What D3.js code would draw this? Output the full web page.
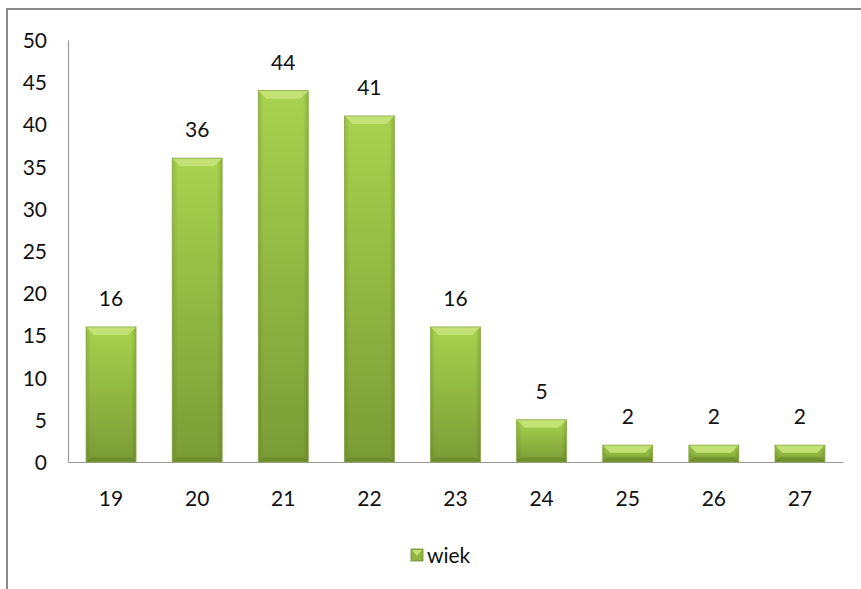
<!DOCTYPE html>
<html><head><meta charset="utf-8">
<script src="https://cdn.jsdelivr.net/npm/d3@7"></script>
<style>
html,body{margin:0;padding:0;background:#fff;}
text{font-family:Lato,"Open Sans",sans-serif;fill:#111;}
</style></head>
<body>
<svg id="chart" width="861" height="589"></svg>
<script>
const categories = ["19","20","21","22","23","24","25","26","27"];
const values = [16,36,44,41,16,5,2,2,2];
const yTicks = [0,5,10,15,20,25,30,35,40,45,50];
const seriesName = "wiek";

const svg = d3.select("#chart");
const W = 861, H = 589;
const plot = {left:68, right:843, top:40, bottom:462};
const FS = "21px";

// frame
svg.append("rect").attr("x",7).attr("y",9).attr("width",W+10).attr("height",H+10)
  .attr("fill","none").attr("stroke","#8a8a8a").attr("stroke-width",2);

const x = d3.scaleBand().domain(categories).range([plot.left, plot.right])
  .paddingInner(0.42).paddingOuter(0.21);
const y = d3.scaleLinear().domain([0,50]).range([plot.bottom, plot.top]);

const defs = svg.append("defs");
const g1 = defs.append("linearGradient").attr("id","gv").attr("x1","0").attr("x2","0").attr("y1","0").attr("y2","1");
g1.append("stop").attr("offset","0").attr("stop-color","#a8d24e");
g1.append("stop").attr("offset","1").attr("stop-color","#7a9c36");
const g2 = defs.append("linearGradient").attr("id","gh").attr("x1","0").attr("x2","1").attr("y1","0").attr("y2","0");
g2.append("stop").attr("offset","0").attr("stop-color","#2f4a00").attr("stop-opacity",0.18);
g2.append("stop").attr("offset","0.1").attr("stop-color","#2f4a00").attr("stop-opacity",0);
g2.append("stop").attr("offset","0.9").attr("stop-color","#2f4a00").attr("stop-opacity",0);
g2.append("stop").attr("offset","1").attr("stop-color","#2f4a00").attr("stop-opacity",0.22);

// axes
const yAxis = d3.axisLeft(y).tickValues(yTicks).tickSize(0).tickPadding(0);
const ya = svg.append("g").attr("transform",`translate(${plot.left},0)`).call(yAxis);
ya.select(".domain").attr("stroke","#9a9a9a").attr("stroke-width",1.2);
ya.selectAll("text").attr("x",-21).attr("dy","0.36em").style("font-size",FS).style("font-family","Lato,'Open Sans',sans-serif").attr("fill","#111");

const xAxis = d3.axisBottom(x).tickSize(0).tickPadding(0);
const xa = svg.append("g").attr("transform",`translate(0,${plot.bottom})`).call(xAxis);
xa.select(".domain").attr("stroke","#9a9a9a").attr("stroke-width",1.2);
xa.selectAll("text").attr("y",44).attr("dy",0).style("font-size",FS).style("font-family","Lato,'Open Sans',sans-serif").attr("fill","#111");

// bars
const bars = svg.append("g").selectAll("g").data(categories.map((c,i)=>({c,v:values[i]}))).join("g");
bars.each(function(d){
  const g = d3.select(this);
  const x0 = x(d.c), w = x.bandwidth(), y0 = y(d.v), y1 = y(0), h = y1-y0;
  const b = Math.min(8, h/2.2);
  const bb = Math.min(5, h/3);
  g.append("rect").attr("x",x0).attr("y",y0).attr("width",w).attr("height",h).attr("fill","url(#gv)");
  g.append("rect").attr("x",x0).attr("y",y0).attr("width",w).attr("height",h).attr("fill","url(#gh)");
  // top bevel
  g.append("path").attr("d",`M${x0},${y0}L${x0+w},${y0}L${x0+w-b},${y0+b}L${x0+b},${y0+b}Z`).attr("fill","#c2e374");
  // bottom bevel
  g.append("path").attr("d",`M${x0},${y1}L${x0+w},${y1}L${x0+w-bb},${y1-bb}L${x0+bb},${y1-bb}Z`).attr("fill","#5f7d22").attr("opacity",0.45);
  g.append("rect").attr("x",x0).attr("y",y0).attr("width",w).attr("height",h).attr("fill","none").attr("stroke","#8aa64a").attr("stroke-width",0.8);
  g.append("text").attr("x",x0+w/2).attr("y",y0-21).attr("text-anchor","middle").style("font-size",FS).text(d.v);
});

// legend
const lg = svg.append("g");
lg.append("rect").attr("x",411).attr("y",549).attr("width",12).attr("height",12).attr("fill","#8fb440").attr("stroke","#6e8a30").attr("stroke-width",0.8);
lg.append("path").attr("d","M412,550L422,550L417,556Z").attr("fill","#c2e374");
lg.append("text").attr("x",427).attr("y",563).style("font-size",FS).text(seriesName);
</script>
</body></html>
